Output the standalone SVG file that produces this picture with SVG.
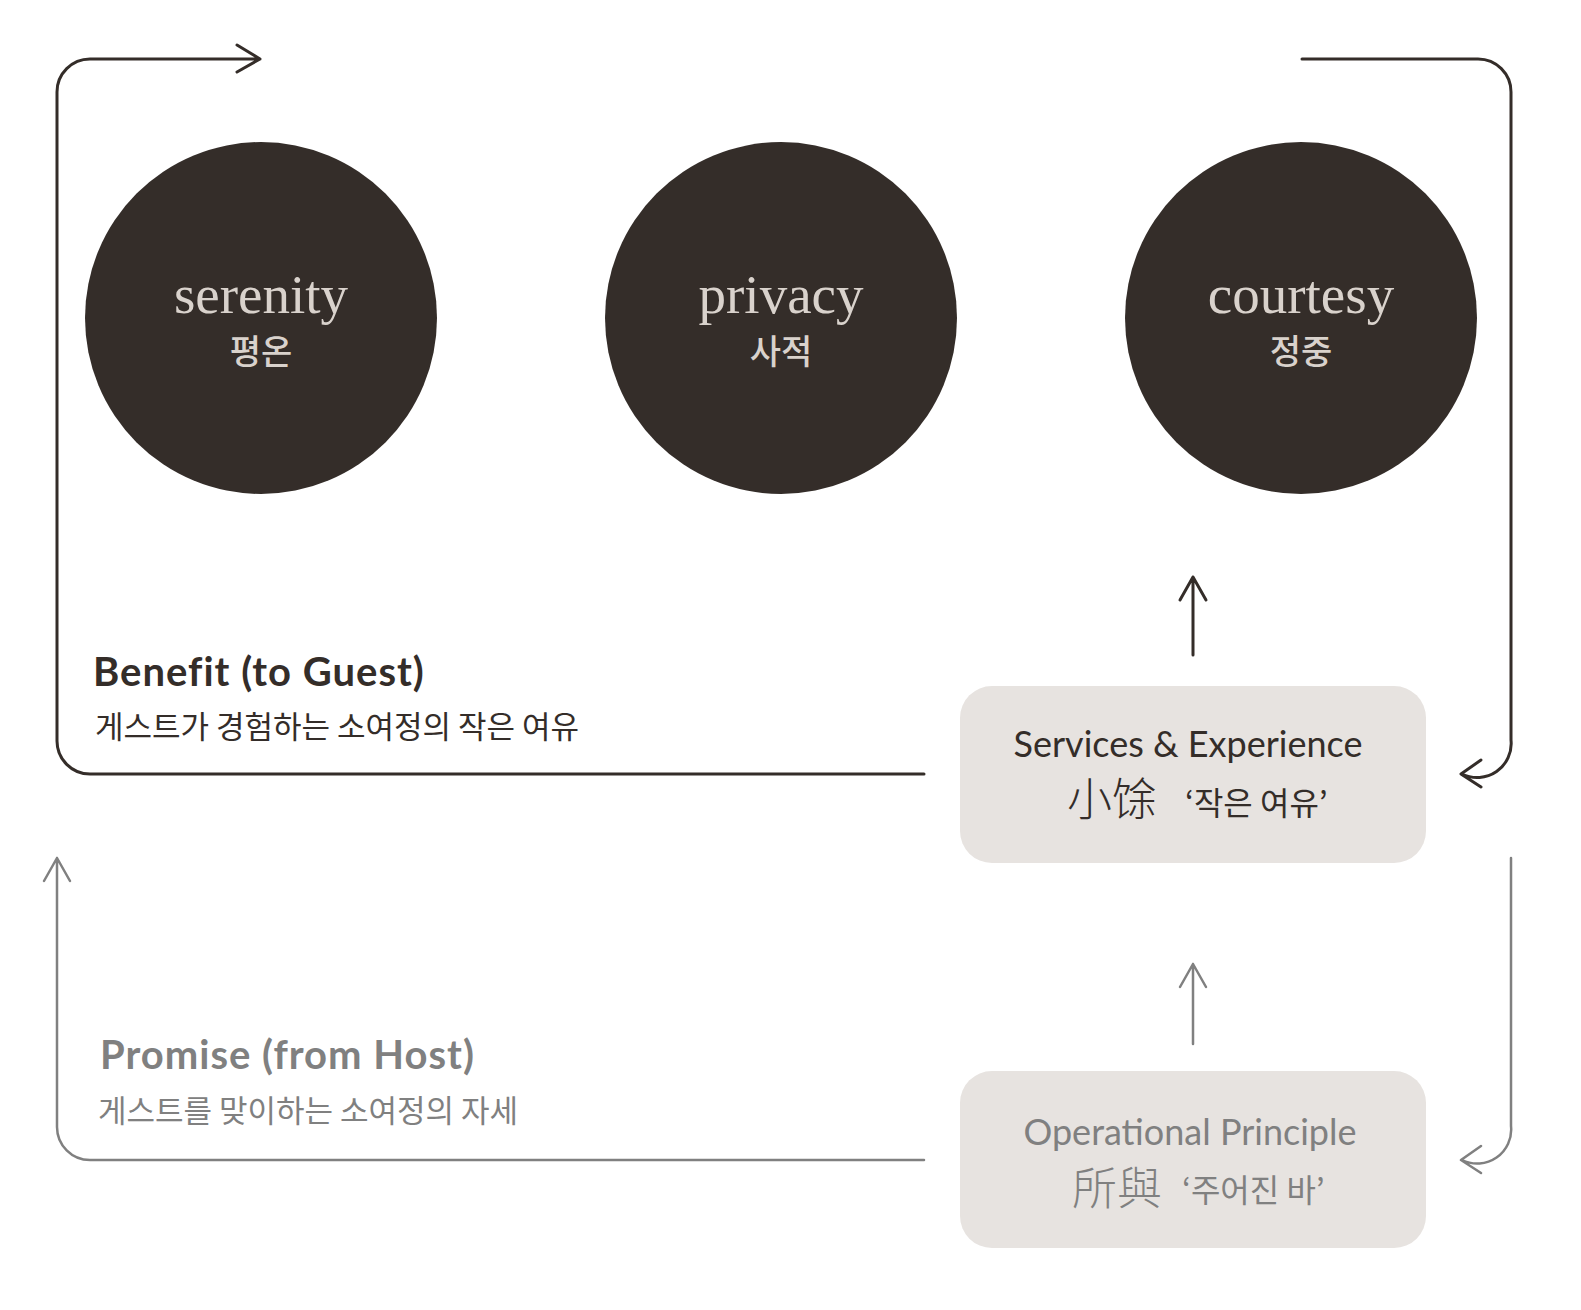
<svg xmlns="http://www.w3.org/2000/svg" width="1581" height="1310" viewBox="0 0 1581 1310">
<style>
.dark{stroke:#342d29;stroke-width:3;fill:none;stroke-linecap:round;stroke-linejoin:round}
.gray{stroke:#808080;stroke-width:2.5;fill:none;stroke-linecap:round;stroke-linejoin:round}
.circle{fill:#342d29}
.en{font-family:"Liberation Serif",serif;font-size:55px;fill:#d9d2cc;text-anchor:middle}
.ko{font-family:"Noto Sans CJK KR",sans-serif;font-size:34px;font-weight:500;fill:#d9d2cc;text-anchor:middle}
.box{fill:#e7e3e0}
.bt{font-family:Lato,"Noto Sans CJK KR",sans-serif;font-size:36px;text-anchor:middle}
.han{font-family:"Noto Sans CJK SC",sans-serif;font-size:45px;font-weight:300}
.sub{font-family:"Noto Sans CJK KR",sans-serif;font-size:32px}
.h{font-family:Lato,sans-serif;font-size:40px;font-weight:bold;letter-spacing:1px}
.d{font-family:"Noto Sans CJK KR",sans-serif;font-size:31px}
</style>
<g id="connectors">
<path class="dark" d="M924 774 H90 A33 33 0 0 1 57 741 V92 A33 33 0 0 1 90 59 H260 M237 45 L260 59 L237 72"/>
<path class="dark" d="M1302 59 H1478 A33 33 0 0 1 1511 92 V740 A34 34 0 0 1 1462 774 M1481 760 L1461 774 L1481 787"/>
<path class="dark" d="M1193 655 V577 M1180 600 L1193 577 L1206 600"/>
<path class="gray" d="M1193 1044 V964 M1180 987 L1193 964 L1206 987"/>
<path class="gray" d="M1511 858 V1126 A34 34 0 0 1 1462 1160 M1481 1146 L1461 1160 L1481 1173"/>
<path class="gray" d="M924 1160 H90 A33 33 0 0 1 57 1127 V858 M44 881 L57 858 L70 881"/>
</g>
<g id="serenity">
<circle class="circle" cx="261" cy="318" r="176"/>
<text class="en" x="261" y="313">serenity</text>
<text class="ko" x="261" y="364">평온</text>
</g>
<g id="privacy">
<circle class="circle" cx="781" cy="318" r="176"/>
<text class="en" x="781" y="313">privacy</text>
<text class="ko" x="781" y="364">사적</text>
</g>
<g id="courtesy">
<circle class="circle" cx="1301" cy="318" r="176"/>
<text class="en" x="1301" y="313">courtesy</text>
<text class="ko" x="1301" y="364">정중</text>
</g>
<g id="benefit-label" fill="#342d29">
<text class="h" x="93" y="686">Benefit (to Guest)</text>
<text class="d" x="95" y="738">게스트가 경험하는 소여정의 작은 여유</text>
</g>
<g id="promise-label" fill="#808080">
<text class="h" x="100" y="1069">Promise (from Host)</text>
<text class="d" x="98" y="1122">게스트를 맞이하는 소여정의 자세</text>
</g>
<g id="services">
<rect class="box" x="960" y="686" width="466" height="177" rx="32"/>
<text class="bt" x="1188" y="757" fill="#342d29">Services &amp; Experience</text>
<text class="han" x="1067" y="816" fill="#342d29">小馀</text>
<text class="sub" x="1185" y="815" fill="#342d29">‘작은 여유’</text>
</g>
<g id="principle">
<rect class="box" x="960" y="1071" width="466" height="177" rx="32"/>
<text class="bt" x="1190" y="1145" fill="#808080">Operational Principle</text>
<text class="han" x="1072" y="1205" fill="#808080">所與</text>
<text class="sub" x="1182" y="1202" fill="#808080">‘주어진 바’</text>
</g>
</svg>
